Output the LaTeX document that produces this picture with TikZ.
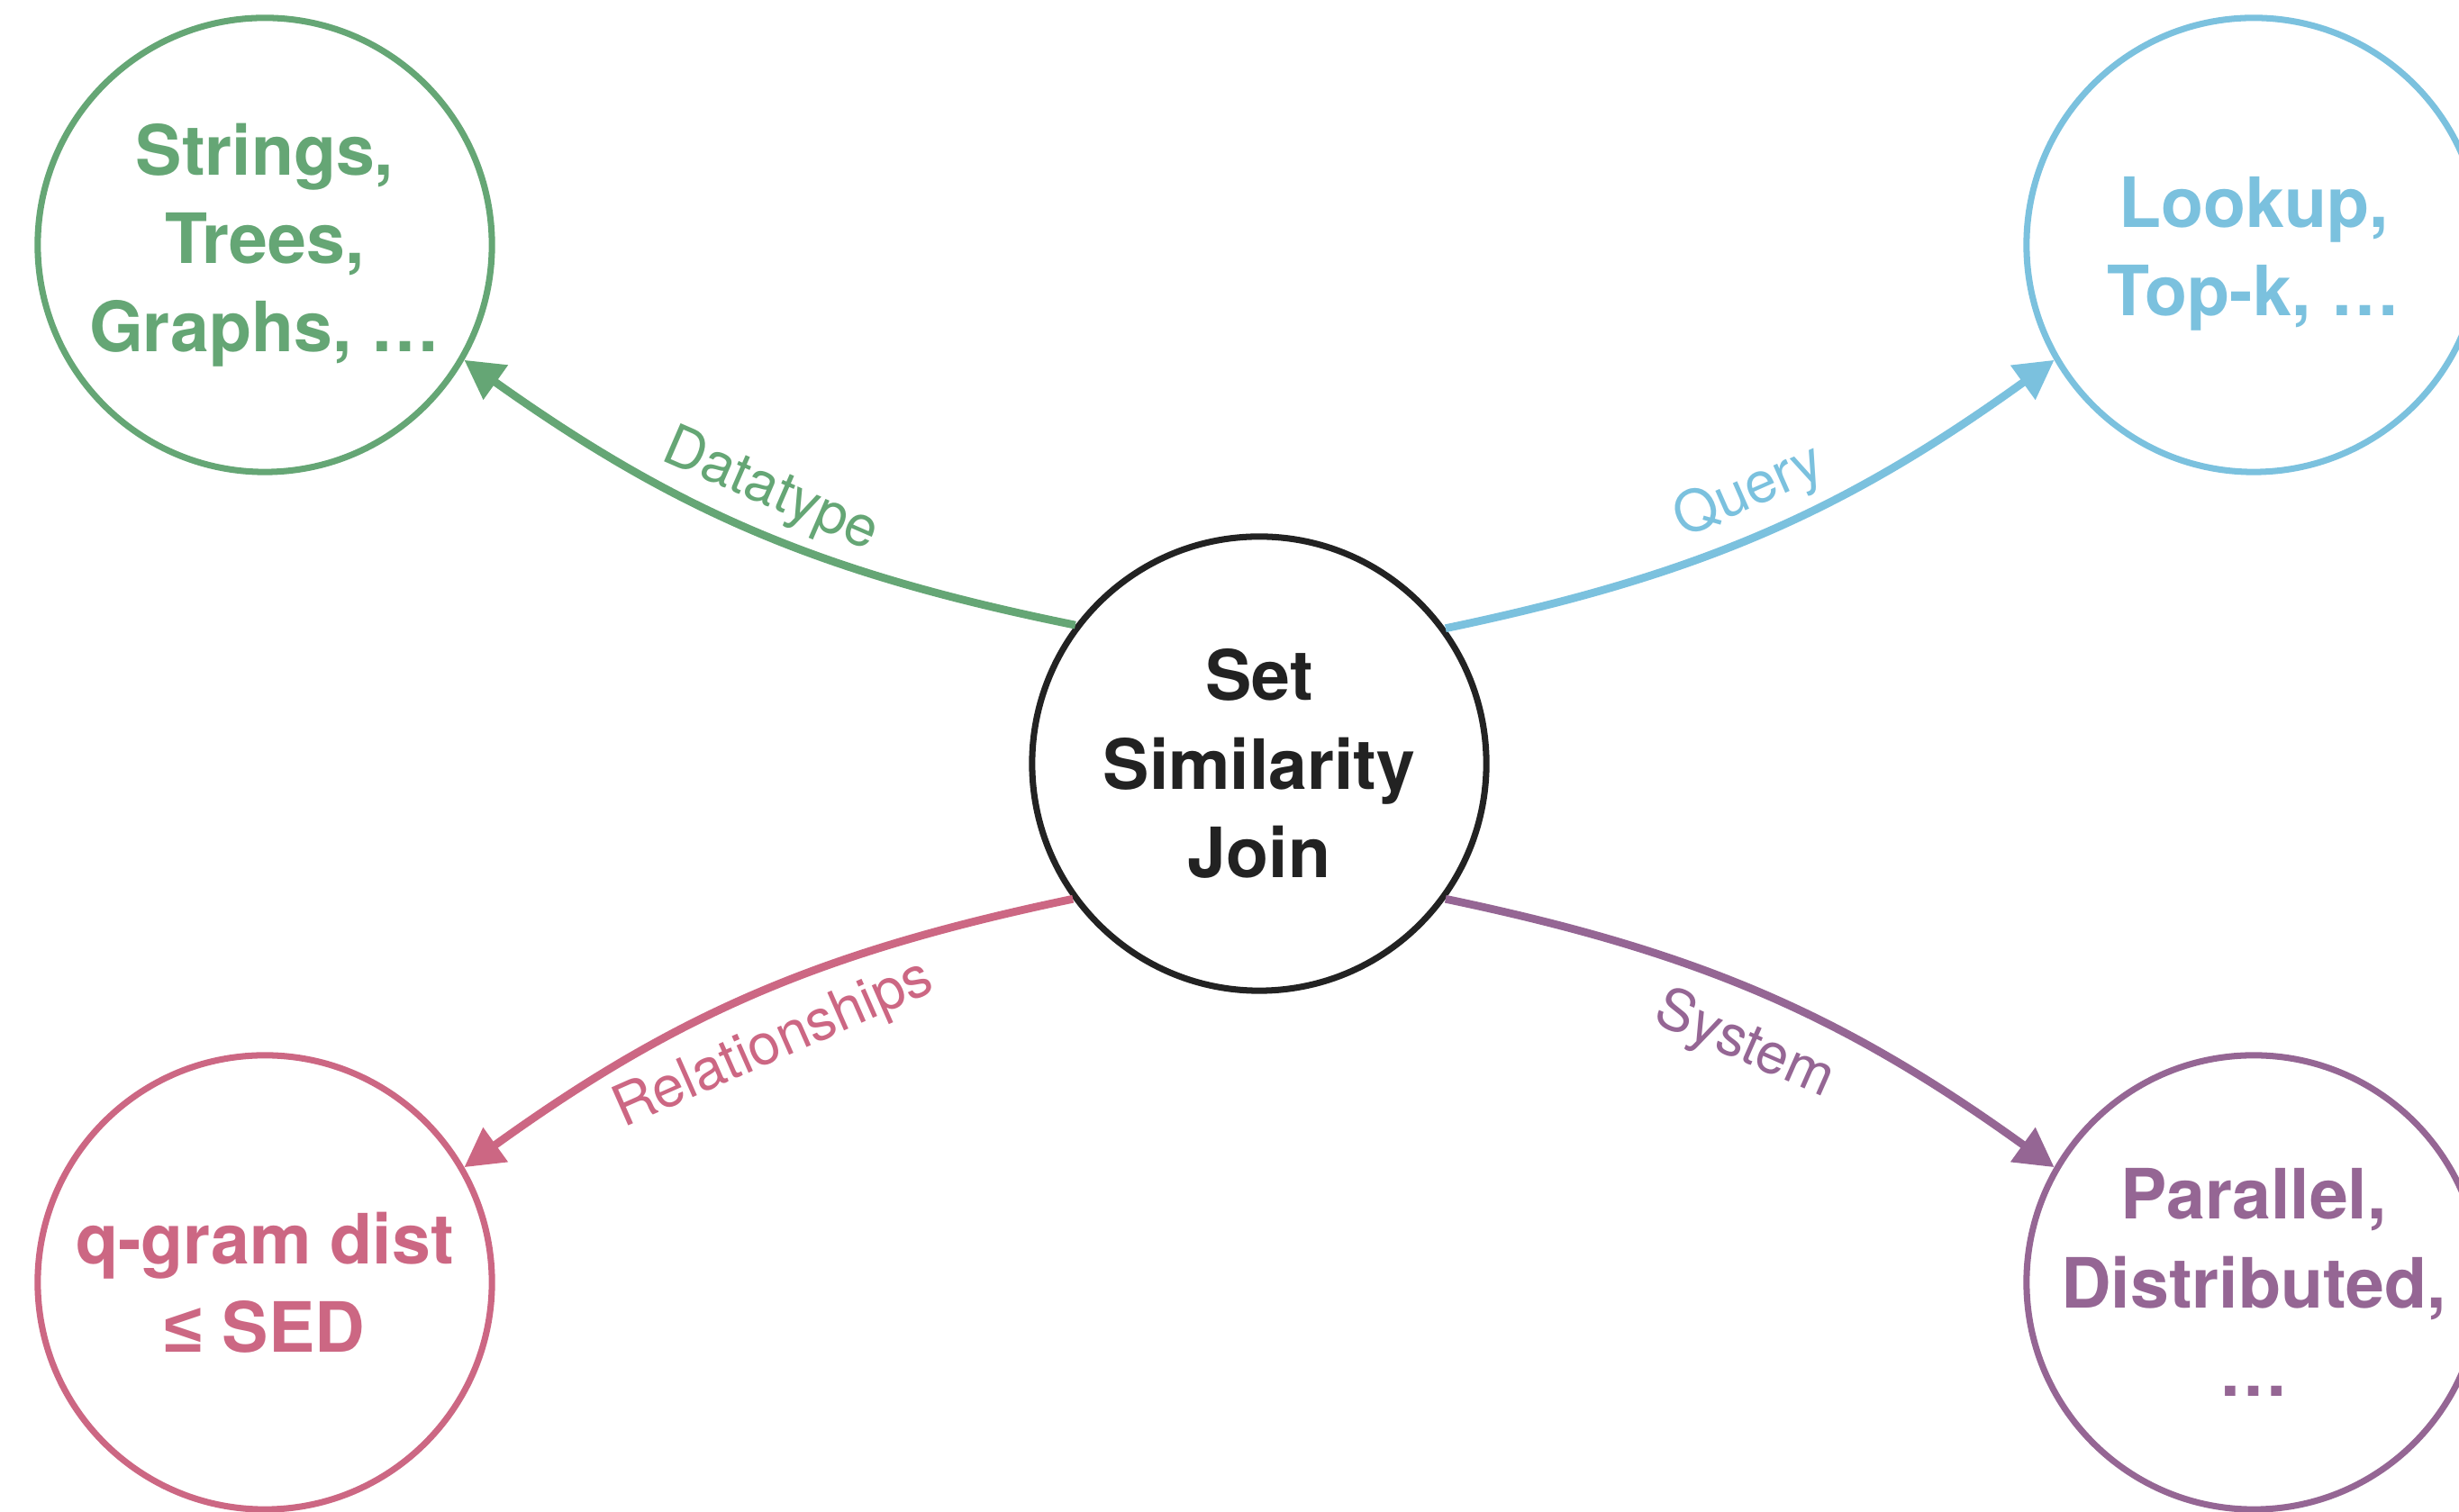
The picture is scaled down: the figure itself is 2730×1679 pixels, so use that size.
\documentclass[tikz,border=0pt]{standalone}
\usepackage{fontspec}
\setmainfont{TeX Gyre Heros}
\newfontfamily\lesymfont{Liberation Sans}
\usetikzlibrary{arrows.meta}
\definecolor{cgreen}{HTML}{65A675}
\definecolor{cblue}{HTML}{7BC1DE}
\definecolor{cpink}{HTML}{CC6783}
\definecolor{cpurple}{HTML}{956694}
\definecolor{cblack}{HTML}{222222}
\newcommand\ndfont{\bfseries\fontsize{21.9pt}{27.9pt}\selectfont}
\newcommand\lbfont{\fontsize{18pt}{21pt}\selectfont}
\begin{document}
\begin{tikzpicture}[x=0.01cm, y=0.01cm,
  circ/.style={circle, draw, line width=2pt, minimum size=5.04cm, inner sep=0pt, align=center, font=\ndfont},
  conn/.style={line width=2.5pt, -{Triangle[length=12.2pt, width=12.8pt]}},
  lab/.style={font=\lbfont, sloped, midway}]
\useasboundingbox (0,0) rectangle (2730,1679);
\clip (0,0) rectangle (2730,1679);
\node[circ, draw=cblack, text=cblack] (C) at (1398,831) {Set\\Similarity\\Join};
\node[circ, draw=cgreen, text=cgreen] (TL) at (294,1407) {Strings,\\Trees,\\Graphs, …};
\node[circ, draw=cblue, text=cblue] (TR) at (2502,1407) {\rule{0pt}{21.5pt}Lookup,\\Top-k, …};
\node[circ, draw=cpink, text=cpink] (BL) at (294,255) {q-gram dist\\{\lesymfont ≤} SED};
\node[circ, draw=cpurple, text=cpurple] (BR) at (2502,255) {Parallel,\\Distributed,\\…};
\draw[conn, cgreen] (C.143.6) to[bend left=12] node[lab, above] {Datatype} (TL.-30);
\draw[conn, cblue] (C.36.4) to[bend right=12] node[lab, above] {Query} (TR.210);
\draw[conn, cpink] (C.216.4) to[bend right=12] node[lab, below=4pt] {Relationships} (BL.30);
\draw[conn, cpurple] (C.-36.4) to[bend left=12] node[lab, below=4pt] {System} (BR.150);
\end{tikzpicture}
\end{document}
